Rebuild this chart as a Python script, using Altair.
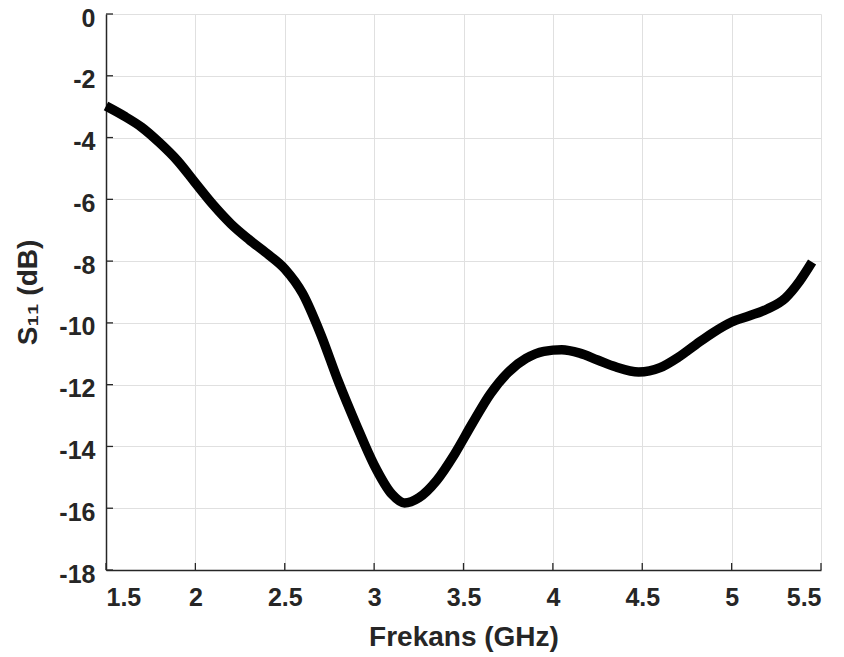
import altair as alt
import pandas as pd

freq = [1.5, 1.6, 1.7, 1.8, 1.9, 2.0, 2.1, 2.2, 2.3, 2.4, 2.5, 2.6, 2.7, 2.8, 2.9,
        3.0, 3.1, 3.17, 3.25, 3.35, 3.45, 3.55, 3.65, 3.75, 3.85, 3.95, 4.05, 4.15,
        4.25, 4.35, 4.48, 4.6, 4.7, 4.8, 4.9, 5.0, 5.1, 5.2, 5.3, 5.38, 5.45]
s11 = [-2.98, -3.3, -3.67, -4.17, -4.75, -5.47, -6.18, -6.8, -7.3, -7.75, -8.25,
       -9.05, -10.35, -11.9, -13.3, -14.6, -15.55, -15.83, -15.66, -15.1, -14.25,
       -13.25, -12.3, -11.6, -11.15, -10.92, -10.87, -10.98, -11.2, -11.42, -11.59,
       -11.45, -11.12, -10.7, -10.3, -9.97, -9.77, -9.55, -9.2, -8.65, -8.03]

x_ticks = [1.5, 2, 2.5, 3, 3.5, 4, 4.5, 5, 5.5]
y_ticks = [0, -2, -4, -6, -8, -10, -12, -14, -16, -18]

W, H = 715, 556
FONT = "Liberation Sans"
TXT = "#262626"
FIX_MINUS = "replace(datum.label, '\u2212', '-')"

df = pd.DataFrame({"f": freq, "s": s11})

xs = alt.Scale(domain=[1.5, 5.5], nice=False, zero=False)
ys = alt.Scale(domain=[-18, 0], nice=False, zero=False)

line = alt.Chart(df).mark_line(
    color="black", strokeWidth=9.5, interpolate="monotone", strokeCap="butt"
).encode(
    x=alt.X("f:Q", scale=xs, axis=alt.Axis(
        values=x_ticks, title="Frekans (GHz)", grid=True, ticks=False,
        labelPadding=15, titlePadding=13, format="~g", labelExpr=FIX_MINUS)),
    y=alt.Y("s:Q", scale=ys, axis=alt.Axis(
        values=y_ticks, title="S₁₁ (dB)", grid=True, ticks=False,
        labelPadding=11, titlePadding=16, labelOffset=4, format="~g",
        labelExpr=FIX_MINUS)),
)

xt = alt.Chart(pd.DataFrame({"v": x_ticks})).mark_rule(color=TXT, strokeWidth=1.3).encode(
    x=alt.X("v:Q", scale=xs), y=alt.value(H), y2=alt.value(H - 7))
yt = alt.Chart(pd.DataFrame({"v": y_ticks})).mark_rule(color=TXT, strokeWidth=1.3).encode(
    y=alt.Y("v:Q", scale=ys), x=alt.value(0), x2=alt.value(7))

chart = alt.layer(line, xt, yt).properties(
    width=W, height=H,
    autosize=alt.AutoSizeParams(type="none"),
    padding={"left": 98, "top": 6, "right": 15, "bottom": 87},
    background="white",
).configure_view(stroke=None).configure_axis(
    labelFont=FONT, titleFont=FONT, labelFontSize=25, titleFontSize=28,
    labelFontWeight="bold", titleFontWeight="bold", labelColor=TXT, titleColor=TXT,
    domainColor=TXT, domainWidth=1.5, gridColor="#e0e0e0", gridWidth=1,
)

chart.save("out.html", embed_options={"renderer": "svg", "actions": False})
